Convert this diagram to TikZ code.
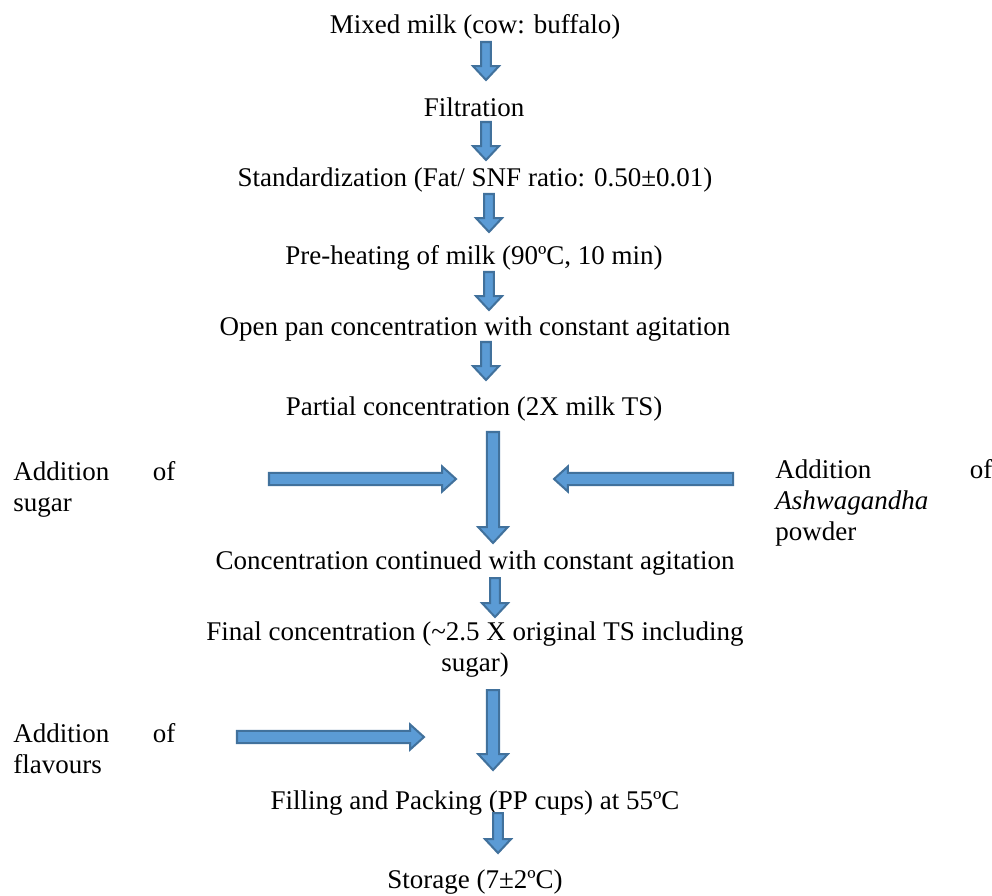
\documentclass[tikz,border=0pt]{standalone}
\usepackage{fontspec}
\setmainfont{Liberation Serif}
\usepackage{tikz}
\usetikzlibrary{calc}
\definecolor{arrowfill}{RGB}{91,155,213}
\definecolor{arrowline}{RGB}{65,113,156}

\tikzset{
  steptext/.style={font=\fontsize{12}{13.8}\selectfont, inner sep=0pt},
  sidetext/.style={steptext, anchor=north west, align=left},
  blockarrow/.style={fill=arrowfill, draw=arrowline, line width=0.9pt}
}

% #1 half shaft, #2 half head, #3 head length, #4 tail, #5 tip
\newcommand{\blockarrow}[5]{
  \coordinate (hb) at ($(#5)!#3!(#4)$);
  \draw[blockarrow] ($(#4)!#1!90:(#5)$) -- ($(hb)!#1!90:(#5)$)
    -- ($(hb)!#2!90:(#5)$) -- (#5) -- ($(hb)!#2!-90:(#5)$)
    -- ($(hb)!#1!-90:(#5)$) -- ($(#4)!#1!-90:(#5)$) -- cycle;
}

\begin{document}
\begin{tikzpicture}[x=0.4444pt, y=-0.4444pt]
  \useasboundingbox (0,0) rectangle (992,895);

  % main steps
  \node[steptext] (milk) at (475,27) {Mixed milk (cow: buffalo)};
  \node[steptext] (filt) at (474,107) {Filtration};
  \node[steptext] (std) at (475,180) {Standardization (Fat/ SNF ratio: 0.50±0.01)};
  \node[steptext] (preheat) at (474,258) {Pre-heating of milk (90ºC, 10 min)};
  \node[steptext] (openpan) at (475,329) {Open pan concentration with constant agitation};
  \node[steptext] (partial) at (474,409) {Partial concentration (2X milk TS)};
  \node[steptext] (contd) at (475,563) {Concentration continued with constant agitation};
  \node[steptext, align=center] (final) at (475,650)
    {Final concentration (\textasciitilde2.5 X original TS including\\sugar)};
  \node[steptext] (filling) at (475,803) {Filling and Packing (PP cups) at 55ºC};
  \node[steptext] (storage) at (475,882) {Storage (7±2ºC)};

  % additions
  \node[sidetext, text width=72pt] (sugar) at (13,461) {Addition\hfill of\\sugar};
  \node[sidetext, text width=96.4pt] (ashwa) at (775,459)
    {Addition\hfill of\\\emph{Ashwagandha}\\powder};
  \node[sidetext, text width=72pt] (flav) at (13,723) {Addition\hfill of\\flavours};

  % arrow ends
  \coordinate (a1s) at (486,42);  \coordinate (a1e) at (486,80);
  \coordinate (a2s) at (486,122); \coordinate (a2e) at (486,160);
  \coordinate (a3s) at (489,194); \coordinate (a3e) at (489,232);
  \coordinate (a4s) at (489,272); \coordinate (a4e) at (489,310);
  \coordinate (a5s) at (486,342); \coordinate (a5e) at (486,380);
  \coordinate (a6s) at (493,432); \coordinate (a6e) at (493,543);
  \coordinate (a7s) at (495,578); \coordinate (a7e) at (495,617);
  \coordinate (a8s) at (493,690); \coordinate (a8e) at (493,770);
  \coordinate (a9s) at (498,813); \coordinate (a9e) at (498,853);
  \coordinate (sugs) at (269,479); \coordinate (suge) at (456,479);
  \coordinate (ashs) at (733,479); \coordinate (ashe) at (554,479);
  \coordinate (flas) at (237,737); \coordinate (flae) at (424,737);

  \foreach \a in {a1,a2,a3,a4,a5,a7,a9}
    \blockarrow{2.2pt}{5.8pt}{6.2pt}{\a s}{\a e};
  \blockarrow{2.7pt}{6.6pt}{7.1pt}{a6s}{a6e}
  \blockarrow{2.7pt}{6.6pt}{7.1pt}{a8s}{a8e}
  \blockarrow{2.7pt}{5.6pt}{6.2pt}{sugs}{suge}
  \blockarrow{2.7pt}{5.6pt}{6.2pt}{ashs}{ashe}
  \blockarrow{2.7pt}{5.6pt}{6.2pt}{flas}{flae}
\end{tikzpicture}
\end{document}
